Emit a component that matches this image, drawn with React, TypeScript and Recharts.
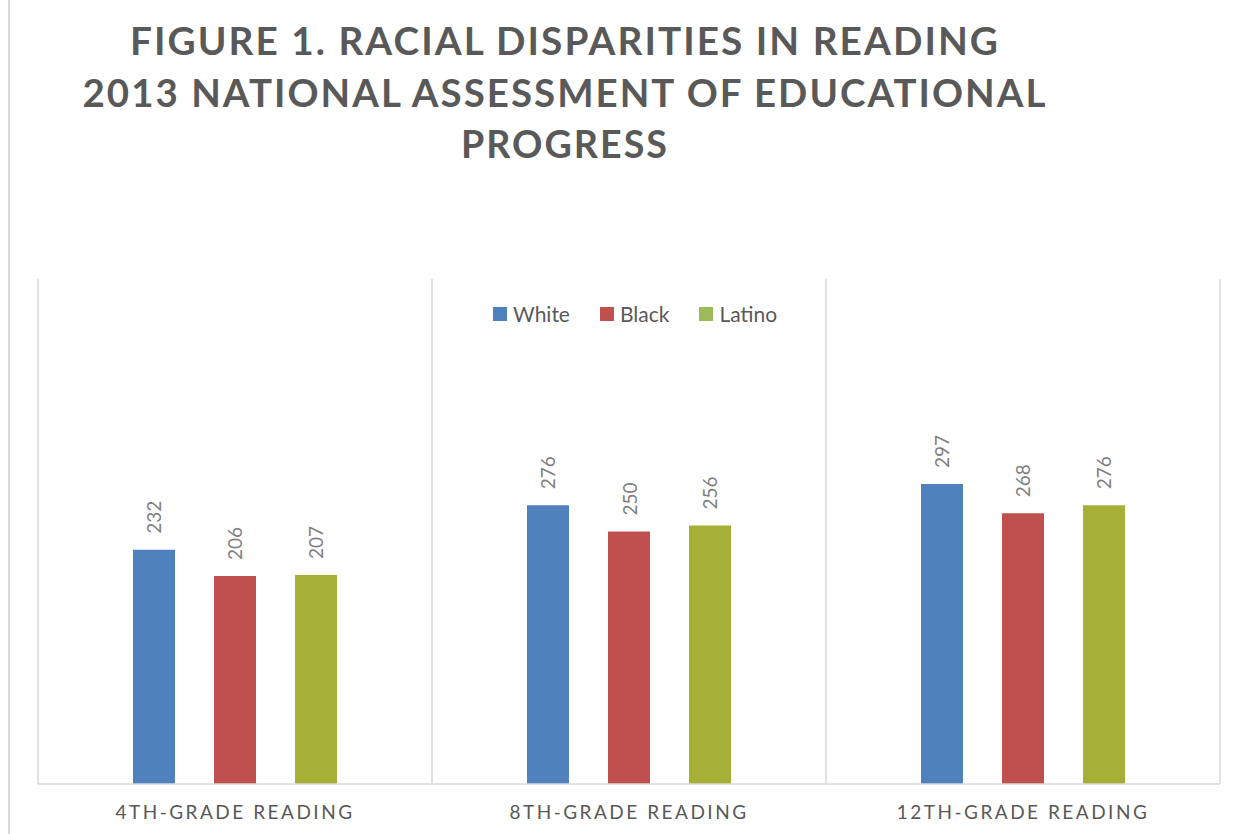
import React from "react";
import { Bar, BarChart, CartesianGrid, LabelList, Legend, XAxis, YAxis } from "recharts";

const categories = ["4TH-GRADE READING", "8TH-GRADE READING", "12TH-GRADE READING"];
const white = [232, 276, 297];
const black = [206, 250, 268];
const latino = [207, 256, 276];

const seriesKeys = ["White", "Black", "Latino"];
const barColors: Record<string, string> = { White: "#4F81BD", Black: "#C0504D", Latino: "#A6B037" };
const legendColors: Record<string, string> = { White: "#4F81BD", Black: "#C0504D", Latino: "#9BBB59" };

const titleLines = [
  "FIGURE 1. RACIAL DISPARITIES IN READING",
  "2013 NATIONAL ASSESSMENT OF EDUCATIONAL",
  "PROGRESS"
];

const data = categories.map((name, i) => ({
  name,
  White: white[i],
  Black: black[i],
  Latino: latino[i]
}));

const FONT = "Lato, 'Open Sans', sans-serif";

function CategoryTick(props: any) {
  const { x, y, payload } = props;
  return (
    <text
      x={x}
      y={y + 27}
      textAnchor="middle"
      fill="#595959"
      fontFamily={FONT}
      fontSize={19}
      letterSpacing={2.5}
    >
      {payload.value}
    </text>
  );
}

function ValueLabel(props: any) {
  const { x, y, width, value } = props;
  const cx = x + width / 2;
  const ty = y - 16;
  return (
    <text
      x={cx}
      y={ty}
      transform={`rotate(-90 ${cx} ${ty})`}
      textAnchor="start"
      dominantBaseline="central"
      fill="#7f7f7f"
      fontFamily={FONT}
      fontSize={19}
    >
      {value}
    </text>
  );
}

function LegendContent(props: any) {
  // keep the series order, not the alphabetical one
  const items = [...(props.payload ?? [])].sort(
    (a: any, b: any) => seriesKeys.indexOf(a.value) - seriesKeys.indexOf(b.value)
  );
  return (
    <div style={{ display: "flex", alignItems: "center", height: 28, fontFamily: FONT }}>
      {items.map((item: any, i: number) => (
        <div key={item.value} style={{ display: "flex", alignItems: "center", marginLeft: i === 0 ? 0 : 30 }}>
          <span
            style={{
              display: "inline-block",
              width: 14,
              height: 14,
              background: legendColors[item.value] ?? item.color,
              marginRight: 6
            }}
          />
          <span style={{ fontSize: 21, lineHeight: "28px", color: "#595959" }}>{item.value}</span>
        </div>
      ))}
    </div>
  );
}

export default function App() {
  return (
    <div style={{ position: "absolute", left: 0, top: 0, width: 1246, height: 834, background: "#fff" }}>
      <div style={{ position: "absolute", left: 8, top: 0, width: 2, height: 834, background: "#d9d9d9" }} />
      <svg width={1246} height={180} style={{ position: "absolute", left: 0, top: 0 }}>
        {titleLines.map((line, i) => (
          <text
            key={line}
            x={565}
            y={[55, 107, 158][i]}
            textAnchor="middle"
            fill="#595959"
            fontFamily={FONT}
            fontWeight={700}
            fontSize={38}
            letterSpacing={2}
            textLength={[870, 965, 208][i]}
            lengthAdjust="spacingAndGlyphs"
          >
            {line}
          </text>
        ))}
      </svg>
      <div style={{ position: "absolute", left: 0, top: 0 }}>
        <BarChart
          width={1246}
          height={834}
          data={data}
          margin={{ top: 279, right: 26, bottom: 10, left: 38 }}
          barSize={42}
          barGap={39}
        >
          <CartesianGrid
            horizontal={false}
            stroke="#d9d9d9"
            strokeWidth={1.5}
            verticalCoordinatesGenerator={({ offset }: any) =>
              [0, 1, 2, 3].map((i) => offset.left + (i * offset.width) / 3)
            }
          />
          <XAxis
            dataKey="name"
            height={40}
            tickLine={false}
            axisLine={{ stroke: "#d9d9d9", strokeWidth: 1.5 }}
            tick={<CategoryTick />}
            interval={0}
          />
          <YAxis hide domain={[0, 500]} />
          <Legend
            layout="horizontal"
            verticalAlign="middle"
            align="center"
            content={<LegendContent />}
            wrapperStyle={{ top: 300, left: 493, width: 320 }}
          />
          {seriesKeys.map((key) => (
            <Bar key={key} dataKey={key} fill={barColors[key]} isAnimationActive={false}>
              <LabelList dataKey={key} content={<ValueLabel />} />
            </Bar>
          ))}
        </BarChart>
      </div>
    </div>
  );
}
